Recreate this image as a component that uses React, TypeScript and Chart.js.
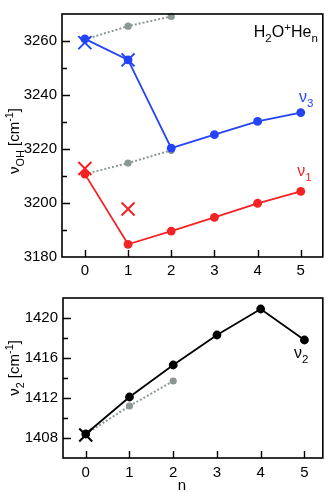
import React, { useEffect, useRef } from "react";
import { Chart, registerables } from "chart.js";

Chart.register(...registerables);

const FONT = "'Liberation Sans', Arial, Helvetica, sans-serif";

// ---- data ----
const nValues = [0, 1, 2, 3, 4, 5];
const nu3 = [3260.8, 3253.0, 3220.3, 3225.3, 3230.2, 3233.5];
const nu3CrossN = [0, 1];
const nu3Cross = [3259.4, 3253.0];
const nu1 = [3210.7, 3184.7, 3189.6, 3194.7, 3199.9, 3204.3];
const nu1CrossN = [0, 1];
const nu1Cross = [3212.8, 3197.8];
const grayN = [0, 1, 2];
const grayUpper = [3260.6, 3265.5, 3269.1];
const grayLower = [3210.7, 3214.8, 3219.5];
const nu2 = [1408.4, 1412.1, 1415.3, 1418.3, 1420.9, 1417.8];
const nu2CrossN = [0];
const nu2Cross = [1408.3];
const grayBottom = [1408.4, 1411.2, 1413.7];

const BLUE = "#2443f4";
const RED = "#f42222";
const GRAY = "#8b9794";
const BLACK = "#000000";

type Seg = { t: string; s?: "sub" | "sup" };

function drawRich(
  ctx: CanvasRenderingContext2D,
  segs: Seg[],
  x: number,
  y: number,
  size: number,
  color: string,
  align: "left" | "center" | "right",
  rotate = false
) {
  const small = size * 0.72;
  ctx.save();
  ctx.fillStyle = color;
  ctx.textBaseline = "alphabetic";
  ctx.textAlign = "left";
  const widths = segs.map((sg) => {
    ctx.font = `${sg.s ? small : size}px ${FONT}`;
    return ctx.measureText(sg.t).width;
  });
  const total = widths.reduce((a, b) => a + b, 0);
  ctx.translate(x, y);
  if (rotate) ctx.rotate(-Math.PI / 2);
  let cx = align === "left" ? 0 : align === "center" ? -total / 2 : -total;
  segs.forEach((sg, i) => {
    ctx.font = `${sg.s ? small : size}px ${FONT}`;
    const dy = sg.s === "sub" ? size * 0.3 : sg.s === "sup" ? -size * 0.38 : 0;
    ctx.fillText(sg.t, cx, dy);
    cx += widths[i];
  });
  ctx.restore();
}

function pts(xs: number[], ys: number[]) {
  return xs.map((x, i) => ({ x, y: ys[i] }));
}

type TextItem = {
  segs: Seg[];
  xv?: number;
  yv?: number;
  px?: (ca: any) => number;
  py?: (ca: any) => number;
  color: string;
  align: "left" | "center" | "right";
  rotate?: boolean;
  size: number;
};

function framePlugin(labelStep: number, texts: TextItem[]) {
  return {
    id: "frameTicks",
    afterDraw(chart: any) {
      const ctx = chart.ctx as CanvasRenderingContext2D;
      const ca = chart.chartArea;
      const xs = chart.scales.x;
      const ys = chart.scales.y;
      ctx.save();
      ctx.strokeStyle = "#000";
      ctx.lineWidth = 1.6;
      ctx.strokeRect(ca.left, ca.top, ca.right - ca.left, ca.bottom - ca.top);
      ctx.lineWidth = 1.4;
      ctx.beginPath();
      ys.ticks.forEach((t: any) => {
        if (t.value <= ys.min || t.value >= ys.max) return;
        const p = Math.round(ys.getPixelForValue(t.value)) + 0.5;
        const len = t.value % labelStep === 0 ? 8 : 5;
        ctx.moveTo(ca.left, p);
        ctx.lineTo(ca.left + len, p);
      });
      xs.ticks.forEach((t: any) => {
        const p = Math.round(xs.getPixelForValue(t.value)) + 0.5;
        ctx.moveTo(p, ca.bottom);
        ctx.lineTo(p, ca.bottom - 7);
      });
      ctx.stroke();
      ctx.restore();
      texts.forEach((tx) => {
        const x = tx.px ? tx.px(ca) : xs.getPixelForValue(tx.xv);
        const y = tx.py ? tx.py(ca) : ys.getPixelForValue(tx.yv);
        drawRich(ctx, tx.segs, x, y, tx.size, tx.color, tx.align, tx.rotate);
      });
    },
  };
}

function lineDs(xs: number[], ys: number[], color: string, radius: number) {
  return {
    data: pts(xs, ys),
    showLine: true,
    borderColor: color,
    backgroundColor: color,
    borderWidth: 1.8,
    pointRadius: radius,
    pointBorderWidth: 0,
    pointBackgroundColor: color,
    clip: false as any,
  };
}

function dottedDs(xs: number[], ys: number[]) {
  return {
    data: pts(xs, ys),
    showLine: true,
    borderColor: GRAY,
    backgroundColor: GRAY,
    borderWidth: 2,
    borderDash: [2, 2],
    pointRadius: 3.6,
    pointBorderWidth: 0,
    pointBackgroundColor: GRAY,
    clip: false as any,
  };
}

function crossDs(xs: number[], ys: number[], color: string) {
  return {
    data: pts(xs, ys),
    showLine: false,
    pointStyle: "crossRot",
    pointRadius: 9.2,
    pointBorderWidth: 2,
    borderColor: color,
    pointBorderColor: color,
    backgroundColor: color,
    clip: false as any,
  };
}

function makeOptions(
  xMin: number,
  xMax: number,
  yMin: number,
  yMax: number,
  yStep: number,
  labelStep: number,
  yWidth: number,
  xHeight: number,
  padding: any,
  xPad: number
) {
  return {
    responsive: false,
    animation: false,
    devicePixelRatio: 1,
    layout: { padding },
    plugins: { legend: { display: false }, tooltip: { enabled: false } },
    scales: {
      x: {
        type: "linear",
        min: xMin,
        max: xMax,
        grid: { display: false, drawTicks: false },
        border: { display: false },
        afterBuildTicks: (s: any) => {
          s.ticks = nValues.map((v) => ({ value: v }));
        },
        afterFit: (s: any) => {
          s.height = xHeight;
        },
        ticks: {
          font: { size: 15, family: FONT },
          color: "#000",
          padding: xPad,
          maxRotation: 0,
          autoSkip: false,
          callback: (v: any) => String(v),
        },
      },
      y: {
        type: "linear",
        min: yMin,
        max: yMax,
        grid: { display: false, drawTicks: false },
        border: { display: false },
        afterBuildTicks: (s: any) => {
          const arr: any[] = [];
          for (let v = yMin; v <= yMax + 1e-9; v += yStep) arr.push({ value: v });
          s.ticks = arr;
        },
        afterFit: (s: any) => {
          s.width = yWidth;
        },
        ticks: {
          font: { size: 15, family: FONT },
          color: "#000",
          padding: 5,
          autoSkip: false,
          callback: (v: any) => (v % labelStep === 0 ? String(v) : ""),
        },
      },
    },
  };
}

export default function App() {
  const topRef = useRef<HTMLCanvasElement>(null);
  const botRef = useRef<HTMLCanvasElement>(null);

  useEffect(() => {
    const topTexts: TextItem[] = [
      {
        segs: [{ t: "H" }, { t: "2", s: "sub" }, { t: "O" }, { t: "+", s: "sup" }, { t: "He" }, { t: "n", s: "sub" }],
        px: (ca) => ca.right - 5,
        py: (ca) => ca.top + 23,
        color: BLACK,
        align: "right",
        size: 16,
      },
      { segs: [{ t: "ν" }, { t: "3", s: "sub" }], xv: 4.96, yv: 3237.3, color: BLUE, align: "left", size: 16 },
      { segs: [{ t: "ν" }, { t: "1", s: "sub" }], xv: 4.92, yv: 3210.0, color: RED, align: "left", size: 16 },
      {
        segs: [{ t: "ν" }, { t: "OH", s: "sub" }, { t: " [cm" }, { t: "-1", s: "sup" }, { t: "]" }],
        px: () => 19,
        py: () => 141,
        color: BLACK,
        align: "center",
        rotate: true,
        size: 15,
      },
    ];
    const botTexts: TextItem[] = [
      { segs: [{ t: "ν" }, { t: "2", s: "sub" }], xv: 4.76, yv: 1416.0, color: BLACK, align: "left", size: 16 },
      {
        segs: [{ t: "ν" }, { t: "2", s: "sub" }, { t: " [cm" }, { t: "-1", s: "sup" }, { t: "]" }],
        px: () => 19,
        py: () => 84,
        color: BLACK,
        align: "center",
        rotate: true,
        size: 15,
      },
      { segs: [{ t: "n" }], xv: 2.2, py: (ca) => ca.bottom + 32, color: BLACK, align: "center", size: 15 },
    ];

    const top = new Chart(topRef.current as HTMLCanvasElement, {
      type: "scatter",
      data: {
        datasets: [
          crossDs(nu3CrossN, nu3Cross, BLUE),
          crossDs(nu1CrossN, nu1Cross, RED),
          lineDs(nValues, nu3, BLUE, 4.4),
          lineDs(nValues, nu1, RED, 4.4),
          dottedDs(grayN, grayUpper),
          dottedDs(grayN, grayLower),
        ] as any,
      },
      options: makeOptions(-0.53, 5.51, 3180, 3270, 10, 20, 62, 27, { left: 0, top: 4, right: 2, bottom: 0 }, 5) as any,
      plugins: [framePlugin(20, topTexts)],
    });

    const bot = new Chart(botRef.current as HTMLCanvasElement, {
      type: "scatter",
      data: {
        datasets: [
          crossDs(nu2CrossN, nu2Cross, BLACK),
          lineDs(nValues, nu2, BLACK, 4.4),
          dottedDs(grayN, grayBottom),
        ] as any,
      },
      options: makeOptions(-0.52, 5.42, 1406, 1422, 2, 4, 63, 34, { left: 0, top: 8, right: 3, bottom: 0 }, 6) as any,
      plugins: [framePlugin(4, botTexts)],
    });

    return () => {
      top.destroy();
      bot.destroy();
    };
  }, []);

  return (
    <div style={{ position: "absolute", left: 0, top: 0, width: 334, height: 492, background: "#fff" }}>
      <canvas ref={topRef} width={334} height={284} style={{ display: "block", position: "absolute", left: 0, top: 0 }} />
      <canvas ref={botRef} width={334} height={208} style={{ display: "block", position: "absolute", left: 0, top: 284 }} />
    </div>
  );
}
